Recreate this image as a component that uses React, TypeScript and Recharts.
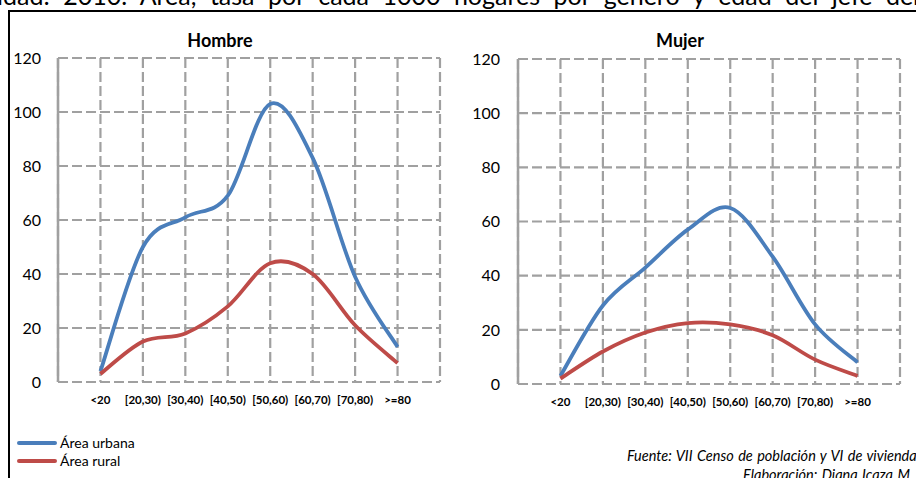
import React from 'react';
import { LineChart, Line, XAxis, YAxis, CartesianGrid } from 'recharts';

const categories = ['<20', '[20,30)', '[30,40)', '[40,50)', '[50,60)', '[60,70)', '[70,80)', '>=80'];
const hombreUrbana = [4, 50, 61, 69, 103, 83, 39, 13];
const hombreRural = [3, 15, 18, 28, 44, 40, 21, 7];
const mujerUrbana = [3, 29, 43, 57, 65, 47, 22, 8];
const mujerRural = [2, 12, 19, 22.5, 22, 18, 9, 3];
const yTicks = [0, 20, 40, 60, 80, 100, 120];

const BLUE = '#4a7ebb';
const RED = '#be4b48';
const GRID = '#a0a0a0';
const FONT = 'Lato, "Open Sans", sans-serif';

// Excel style smoothed line (catmull-rom like bezier)
function excelCurve(context: any) {
  let pts: number[][] = [];
  return {
    areaStart() {},
    areaEnd() {},
    lineStart() {
      pts = [];
    },
    lineEnd() {
      if (!pts.length) return;
      context.moveTo(pts[0][0], pts[0][1]);
      for (let i = 0; i < pts.length - 1; i++) {
        const p0 = pts[Math.max(i - 1, 0)];
        const p1 = pts[i];
        const p2 = pts[i + 1];
        const p3 = pts[Math.min(i + 2, pts.length - 1)];
        context.bezierCurveTo(
          p1[0] + (p2[0] - p0[0]) / 6,
          p1[1] + (p2[1] - p0[1]) / 6,
          p2[0] - (p3[0] - p1[0]) / 6,
          p2[1] - (p3[1] - p1[1]) / 6,
          p2[0],
          p2[1]
        );
      }
    },
    point(x: number, y: number) {
      pts.push([x, y]);
    },
  };
}

const buildData = (urbana: number[], rural: number[]) =>
  categories.map((name, i) => ({ pos: i + 1, name, urbana: urbana[i], rural: rural[i] }));

interface PanelProps {
  title: string;
  urbana: number[];
  rural: number[];
  left: number;
  top: number;
  bottom: number;
  yMargin: number;
}

function Panel({ title, urbana, rural, left, top, bottom, yMargin }: PanelProps) {
  const data = buildData(urbana, rural);
  return (
    <div style={{ position: 'absolute', left, top: 0, width: 460, height: 430 }}>
      <div
        style={{
          position: 'absolute',
          left: 0,
          width: 440,
          top: 29,
          textAlign: 'center',
          fontFamily: FONT,
          fontWeight: 700,
          fontSize: 18,
          color: '#000',
        }}
      >
        {title}
      </div>
      <LineChart
        width={460}
        height={430}
        data={data}
        margin={{ top, right: 20, bottom: 430 - bottom - 30, left: 0 }}
      >
        <CartesianGrid stroke={GRID} strokeWidth={2.2} strokeDasharray="10 4" />
        <XAxis
          type="number"
          dataKey="pos"
          domain={[0, 9]}
          ticks={[0, 1, 2, 3, 4, 5, 6, 7, 8, 9]}
          interval={0}
          height={30}
          axisLine={false}
          tickLine={false}
          tickSize={0}
          tickMargin={14}
          tickFormatter={(v: number) => (v >= 1 && v <= 8 ? categories[v - 1] : '')}
          tick={{ fontFamily: FONT, fontWeight: 700, fontSize: 11.5, fill: '#000' }}
        />
        <YAxis
          domain={[0, 120]}
          ticks={yTicks}
          interval={0}
          width={58}
          axisLine={{ stroke: GRID, strokeWidth: 2.5 }}
          tickLine={false}
          tickSize={0}
          tickMargin={yMargin}
          tick={{ fontFamily: FONT, fontSize: 16, fill: '#000' }}
        />
        <Line
          dataKey="urbana"
          type={excelCurve as any}
          stroke={BLUE}
          strokeWidth={3.8}
          dot={false}
          activeDot={false}
          isAnimationActive={false}
        />
        <Line
          dataKey="rural"
          type={excelCurve as any}
          stroke={RED}
          strokeWidth={3.8}
          dot={false}
          activeDot={false}
          isAnimationActive={false}
        />
      </LineChart>
    </div>
  );
}

function LegendRow({ color, label, top }: { color: string; label: string; top: number }) {
  return (
    <div style={{ position: 'absolute', left: 17, top, display: 'flex', alignItems: 'center' }}>
      <div style={{ width: 40, height: 4, background: color, borderRadius: 2 }} />
      <span style={{ fontFamily: FONT, fontSize: 14, color: '#000', marginLeft: 3, lineHeight: '18px' }}>
        {label}
      </span>
    </div>
  );
}

export default function App() {
  return (
    <div
      style={{
        position: 'absolute',
        left: 0,
        top: 0,
        width: 916,
        height: 478,
        overflow: 'hidden',
        background: '#fff',
      }}
    >
      <div
        style={{
          position: 'absolute',
          left: -3,
          width: 922,
          top: -20,
          fontFamily: FONT,
          fontSize: 25,
          lineHeight: '30px',
          height: 30,
          overflow: 'hidden',
          textAlign: 'justify',
          textAlignLast: 'justify',
          color: '#000',
        }}
      >
        idad: 2010. Área, tasa por cada 1000 hogares por género y edad del jefe del
      </div>
      <div
        style={{
          position: 'absolute',
          left: 8,
          top: 10,
          width: 1000,
          height: 600,
          borderTop: '2px solid #000',
          borderLeft: '2px solid #000',
        }}
      />
      <Panel title="Hombre" urbana={hombreUrbana} rural={hombreRural} left={0} top={58} bottom={382} yMargin={17} />
      <Panel title="Mujer" urbana={mujerUrbana} rural={mujerRural} left={460} top={59} bottom={384} yMargin={18} />
      <LegendRow color={BLUE} label="Área urbana" top={434} />
      <LegendRow color={RED} label="Área rural" top={452} />
      <div
        style={{
          position: 'absolute',
          left: 627,
          top: 446,
          whiteSpace: 'nowrap',
          fontFamily: FONT,
          fontStyle: 'italic',
          fontSize: 14.5,
          wordSpacing: 1,
          color: '#000',
          lineHeight: '19px',
        }}
      >
        Fuente: VII Censo de población y VI de vivienda 2010, INEC
        <div style={{ marginLeft: 116 }}>Elaboración: Diana Icaza M.</div>
      </div>
    </div>
  );
}
